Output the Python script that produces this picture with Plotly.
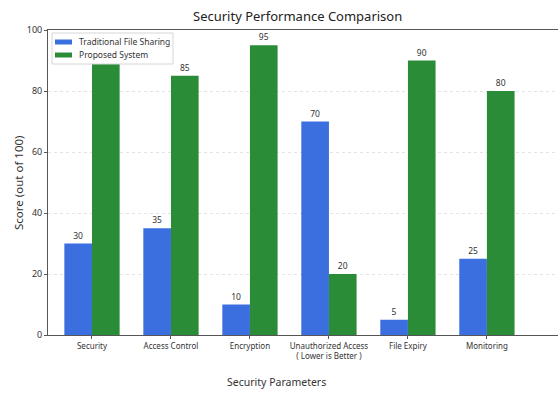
import plotly.graph_objects as go

categories = ["Security", "Access Control", "Encryption",
              "Unauthorized Access<br>( Lower is Better )", "File Expiry", "Monitoring"]
series_names = ["Traditional File Sharing", "Proposed System"]
traditional = [30, 35, 10, 70, 5, 25]
proposed = [90, 85, 95, 20, 90, 80]
y_ticks = [0, 20, 40, 60, 80, 100]

blue = "#3b6fdf"
green = "#2b8c38"
FONT = "Noto Sans, Open Sans, DejaVu Sans, sans-serif"

fig = go.Figure()
for name, vals, col in [(series_names[0], traditional, blue), (series_names[1], proposed, green)]:
    fig.add_trace(go.Bar(x=list(range(len(categories))), y=vals, name=name,
                         marker=dict(color=col, line=dict(width=0)),
                         text=[str(v) for v in vals], textposition="outside",
                         textfont=dict(size=8.5, color="#333333"), cliponaxis=False,
                         showlegend=False))

L, R, T, B = 48, 0, 30, 60
W, H = 558, 395
pw, ph = W - L - R, H - T - B


def px(x):
    return (x - L) / pw


def py(y):
    return (H - B - y) / ph


# legend drawn as a frame on top of the plot (covers bars beneath, like the reference)
shapes = [
    dict(type="rect", xref="paper", yref="paper", x0=px(52), x1=px(173), y0=py(64), y1=py(33),
         fillcolor="white", line=dict(color="#d6d6d6", width=1), layer="above"),
]
annotations = []
for i, (name, col) in enumerate(zip(series_names, [blue, green])):
    yc = 42 + i * 13
    shapes.append(dict(type="rect", xref="paper", yref="paper", x0=px(55), x1=px(72),
                       y0=py(yc + 2.5), y1=py(yc - 2.5), fillcolor=col,
                       line=dict(width=0), layer="above"))
    annotations.append(dict(text=name, x=px(77), y=py(yc), xref="paper", yref="paper",
                            xanchor="left", yanchor="middle", showarrow=False,
                            font=dict(size=8.5, color="#333333", family=FONT)))

annotations += [
    dict(text="Security Performance Comparison", x=px(297), y=py(16), xref="paper", yref="paper",
         xanchor="center", yanchor="middle", showarrow=False,
         font=dict(size=13, color="#222222", family=FONT)),
    dict(text="Security Parameters", x=px(276), y=py(382), xref="paper", yref="paper",
         xanchor="center", yanchor="middle", showarrow=False,
         font=dict(size=10.5, color="#333333", family=FONT)),
    dict(text="Score (out of 100)", x=px(18), y=py(183), xref="paper", yref="paper",
         xanchor="center", yanchor="middle", textangle=-90, showarrow=False,
         font=dict(size=11.5, color="#333333", family=FONT)),
]

fig.update_layout(
    width=W, height=H,
    margin=dict(l=L, r=R, t=T, b=B, autoexpand=False),
    paper_bgcolor="white", plot_bgcolor="white",
    font=dict(family=FONT, color="#333333"),
    barmode="group", bargap=0.3, bargroupgap=0,
    uniformtext=dict(minsize=8, mode="show"),
    showlegend=False,
    shapes=shapes,
    annotations=annotations,
)

fig.update_xaxes(range=[-0.557, 5.9], tickmode="array",
                 tickvals=list(range(len(categories))), ticktext=categories,
                 tickangle=0, automargin=False,
                 showline=True, linecolor="#555555", linewidth=1, mirror=True,
                 ticks="outside", ticklen=3, tickcolor="#555555",
                 tickfont=dict(size=8, color="#333333", family=FONT), showgrid=False, zeroline=False)
fig.update_yaxes(range=[0, 100], tickvals=y_ticks, automargin=False,
                 showline=True, linecolor="#555555", linewidth=1,
                 ticks="outside", ticklen=3, tickcolor="#555555",
                 tickfont=dict(size=9, color="#333333", family=FONT),
                 showgrid=True, gridcolor="#e3e3e3", griddash="dot", gridwidth=1,
                 zeroline=False)

fig.write_html("out.html")
